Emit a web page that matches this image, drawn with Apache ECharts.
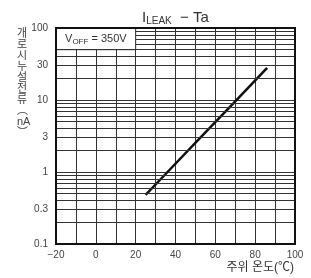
<!DOCTYPE html>
<html>
<head>
<meta charset="utf-8">
<script src="https://cdn.jsdelivr.net/npm/echarts@6/dist/echarts.min.js"></script>
<style>
  html, body { margin: 0; padding: 0; background: #fff; }
  #chart { width: 311px; height: 278px; }
</style>
</head>
<body>
<div id="chart"></div>
<script>
// 주위 온도 vs 누설전류
const tempC = [25, 36, 52, 70, 86]
const leakNA = [0.48, 1.0, 2.9, 9.6, 28]

// 로그 보조 격자선
const minorGrid = [0.2, 0.3, 0.4, 0.5, 0.6, 0.7, 0.8, 0.9, 2, 3, 4, 5, 6, 7, 8, 9, 20, 30, 40, 50, 60, 70, 80, 90]
const sideLabels = [0.3, 3, 30]
const xLabels = [-20, 0, 20, 40, 60, 80, 100]

// 조건 상자 (V_OFF)
const boxX = [-20, 20]
const boxY = [50, 100]

const font = '"Liberation Sans", Arial, "Noto Sans CJK KR", sans-serif'
const gridColor = '#333'

const chart = echarts.init(document.getElementById('chart'))

const gridLines = minorGrid.map((v) => {
  const label = sideLabels.includes(v)
    ? { show: true, position: 'start', distance: 8, formatter: String(v), color: '#444', fontSize: 10, fontFamily: font }
    : { show: false }
  if (v > boxY[0]) {
    return [{ coord: [boxX[1], v], label }, { coord: [100, v] }]
  }
  return { yAxis: v, label }
})

const option = {
  animation: false,
  title: [
    {
      text: '{i|I}{s|LEAK}{i|  − Ta}',
      left: 137,
      top: 3,
      textStyle: {
        fontWeight: 'normal',
        rich: {
          i: { fontSize: 15, fontFamily: font, color: '#333', fontWeight: 'normal', lineHeight: 20 },
          s: { fontSize: 10, fontFamily: font, color: '#333', fontWeight: 'normal', padding: [7, 0, 0, 0], lineHeight: 20 }
        }
      }
    },
    {
      text: ['개', '로', '시', '누', '설', '전', '류', '︵', 'nA', '︶'].join('\n'),
      left: 12,
      top: 23,
      textAlign: 'left',
      textStyle: { fontSize: 11, lineHeight: 11, color: '#444', fontWeight: 'normal', fontFamily: font }
    },
    {
      text: '주위 온도(℃)',
      right: 12,
      top: 257,
      textStyle: { fontSize: 12, color: '#333', fontWeight: 'normal', fontFamily: font }
    }
  ],
  grid: {
    left: 56,
    right: 16,
    top: 28,
    bottom: 34,
    show: true,
    z: 10,
    backgroundColor: 'transparent',
    borderColor: '#111',
    borderWidth: 2
  },
  xAxis: {
    type: 'value',
    min: -20,
    max: 100,
    interval: 10,
    axisLine: { show: false },
    axisTick: { show: false },
    axisLabel: {
      color: '#444',
      fontSize: 10,
      fontFamily: font,
      margin: 6,
      formatter: (v) => (xLabels.includes(v) ? String(v).replace('-', '−') : '')
    },
    splitLine: { show: true, lineStyle: { color: gridColor, width: 1 } }
  },
  yAxis: {
    type: 'log',
    logBase: 10,
    min: 0.1,
    max: 100,
    axisLine: { show: false },
    axisTick: { show: false },
    axisLabel: { color: '#444', fontSize: 10, fontFamily: font, margin: 8 },
    splitLine: { show: true, lineStyle: { color: gridColor, width: 1 } }
  },
  series: [
    {
      name: 'grid',
      type: 'line',
      data: [],
      z: 2,
      silent: true,
      markLine: {
        silent: true,
        symbol: ['none', 'none'],
        lineStyle: { color: gridColor, width: 1, type: 'solid' },
        label: { show: false },
        data: gridLines
      }
    },
    {
      name: 'box',
      type: 'line',
      data: [],
      z: 3,
      silent: true,
      markArea: {
        silent: true,
        itemStyle: { color: '#fff', borderColor: gridColor, borderWidth: 1 },
        label: {
          show: true,
          position: 'inside',
          formatter: '{v|V}{s|OFF}{v| = 350V}',
          rich: {
            v: { fontSize: 11, fontFamily: font, color: '#333', lineHeight: 14 },
            s: { fontSize: 8, fontFamily: font, color: '#333', padding: [5, 0, 0, 0], lineHeight: 14 }
          }
        },
        data: [[{ coord: [boxX[0], boxY[0]] }, { coord: [boxX[1], boxY[1]] }]]
      }
    },
    {
      name: 'ILEAK',
      type: 'line',
      z: 4,
      data: tempC.map((t, i) => [t, leakNA[i]]),
      symbol: 'none',
      lineStyle: { color: '#111', width: 2.5 }
    }
  ]
}

chart.setOption(option)
</script>
</body>
</html>
